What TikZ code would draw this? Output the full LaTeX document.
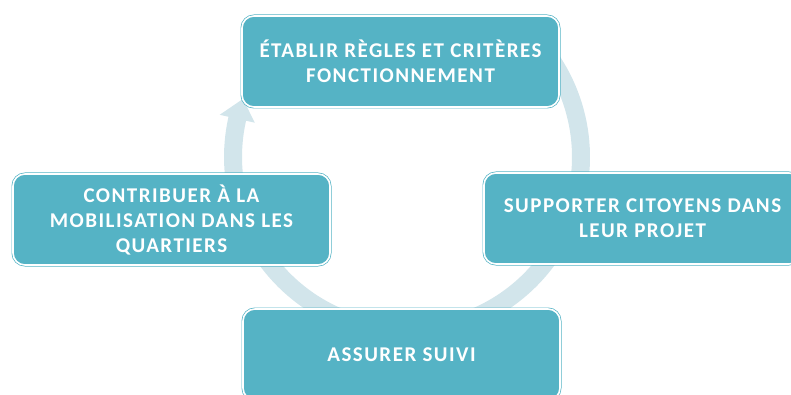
\documentclass[tikz,border=0pt]{standalone}
\usepackage{fontspec}
\setmainfont{Carlito}[LetterSpace=7]
\definecolor{boxc}{HTML}{55B3C5}
\definecolor{ringc}{HTML}{D2E5EB}
\begin{document}
\begin{tikzpicture}[x=1pt,y=-1pt,
  stage/.style={rectangle, rounded corners=12pt, fill=boxc, draw=boxc, double=white,
    double distance=1.6pt, line width=0.7pt, minimum width=317pt, minimum height=91pt,
    text=white, align=center, font=\bfseries\fontsize{21}{25}\selectfont, inner sep=0pt}]
\useasboundingbox (0,0) rectangle (791,395);
\clip (0,0) rectangle (791,395);
% ring with arrowhead
\fill[ringc]
  plot[domain=45:-192.7, samples=120] ({407+183*cos(\x)},{157-183*sin(\x)})
  -- ({407+192*cos(-192.7)},{157-192*sin(-192.7)})
  -- ({407+174*cos(-199.5)},{157-174*sin(-199.5)})
  -- ({407+156*cos(-192.7)},{157-156*sin(-192.7)})
  -- plot[domain=-192.7:45, samples=120] ({407+165*cos(\x)},{157-165*sin(\x)})
  -- cycle;
\node[stage] (top) at (400.5,61.5) {ÉTABLIR RÈGLES ET CRITÈRES\\FONCTIONNEMENT};
\node[stage] (right) at (642.5,218.5) {SUPPORTER CITOYENS DANS\\LEUR PROJET};
\node[stage] (bottom) at (401.5,354.5) {ASSURER SUIVI};
\node[stage] (left) at (171.5,219.5) {CONTRIBUER À LA\\MOBILISATION DANS LES\\QUARTIERS};
\end{tikzpicture}
\end{document}
